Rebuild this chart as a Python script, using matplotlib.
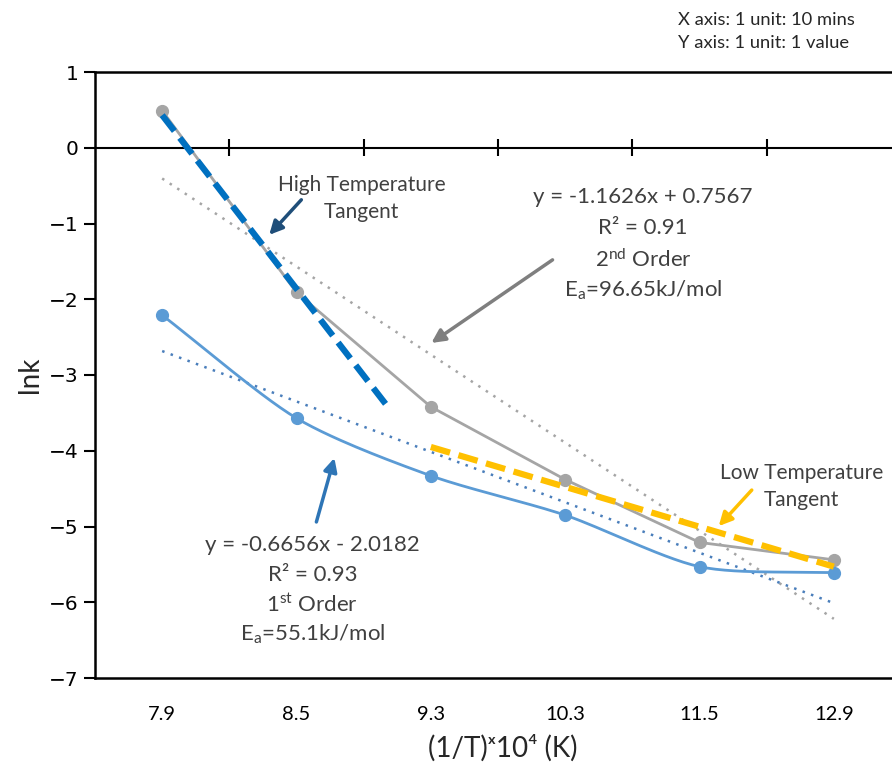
import numpy as np
import matplotlib
matplotlib.use("Agg")
import matplotlib.pyplot as plt
from matplotlib import font_manager

# ---------------- data ----------------
categories = ["7.9", "8.5", "9.3", "10.3", "11.5", "12.9"]
first_order = [-2.21, -3.57, -4.33, -4.85, -5.53, -5.61]     # blue series
second_order = [0.49, -1.91, -3.42, -4.38, -5.21, -5.44]     # gray series
trend_first = (-0.6656, -2.0182)    # slope, intercept (from chart label)
trend_second = (-1.1626, 0.7567)
high_tangent_x = [1.0, 2.68]
high_tangent_y = [0.43, -3.42]
low_tangent_x = [3.0, 6.0]
low_tangent_y = [-3.95, -5.53]
yticks = list(range(-7, 2))

names = {f.name for f in font_manager.fontManager.ttflist}
body_font = ["Lato", "DejaVu Sans"]
narrow = ["Liberation Sans Narrow", "Lato", "DejaVu Sans"] if "Liberation Sans Narrow" in names else ["Lato", "DejaVu Sans"]

plt.rcParams["mathtext.fontset"] = "custom"
plt.rcParams["mathtext.rm"] = "Lato"
plt.rcParams["mathtext.it"] = "Lato:italic"
plt.rcParams["mathtext.bf"] = "Lato:bold"

GRAY = "#A5A5A5"
BLUE = "#5B9BD5"
BLUE_DOT = "#4A7EBB"
DARKBLUE = "#0070C0"
ORANGE = "#FFC000"
TXT = "#404040"

fig = plt.figure(figsize=(8.92, 7.67), dpi=100)
ax = fig.add_axes([95 / 892, 89 / 767, (901 - 95) / 892, (695 - 89) / 767])

x = np.arange(1, len(categories) + 1)

# trend lines (dotted)
for (m, b), col in [(trend_second, GRAY), (trend_first, BLUE_DOT)]:
    ax.plot(x, m * x + b, color=col, lw=1.8, dashes=(1, 2.6), zorder=2)

# gray series (straight)
ax.plot(x, second_order, color=GRAY, lw=2.0, marker="o", ms=8.5, zorder=3)


# blue series smoothed (cardinal spline)
def cardinal(xs, ys, k=0.8, n=30):
    P = np.column_stack([xs, ys]).astype(float)
    m = np.zeros_like(P)
    m[1:-1] = (P[2:] - P[:-2]) / 2 * k
    m[0] = (P[1] - P[0]) * k
    m[-1] = (P[-1] - P[-2]) * k
    out = []
    t = np.linspace(0, 1, n)[:, None]
    h00 = 2 * t ** 3 - 3 * t ** 2 + 1
    h10 = t ** 3 - 2 * t ** 2 + t
    h01 = -2 * t ** 3 + 3 * t ** 2
    h11 = t ** 3 - t ** 2
    for i in range(len(P) - 1):
        out.append(h00 * P[i] + h10 * m[i] + h01 * P[i + 1] + h11 * m[i + 1])
    c = np.vstack(out)
    return c[:, 0], c[:, 1]


sx, sy = cardinal(x, first_order)
ax.plot(sx, sy, color=BLUE, lw=2.0, zorder=3)
ax.plot(x, first_order, ls="none", marker="o", ms=8.5, color=BLUE, zorder=3)

# tangents
ax.plot(high_tangent_x, high_tangent_y, color=DARKBLUE, lw=4.5, dashes=(3.2, 1.4), zorder=4)
ax.plot(low_tangent_x, low_tangent_y, color=ORANGE, lw=4.5, dashes=(3.2, 1.4), zorder=4)

# zero line with crossing ticks at category boundaries
ax.axhline(0, color="black", lw=1.5, zorder=1)
bounds = np.arange(1.5, len(categories) + 0.5, 1.0)
ax.vlines(bounds, -0.11, 0.11, color="black", lw=1.5, zorder=1)

ax.set_xlim(0.5, len(categories) + 0.5)
ax.set_ylim(-7, 1)
ax.set_yticks(yticks)
ax.set_yticklabels([f"{v}".replace("-", "\u2212") for v in yticks], fontsize=14.5, family="DejaVu Sans")
ax.set_xticks(x)
ax.set_xticklabels(categories, fontsize=14.5, family=narrow)
ax.tick_params(axis="x", length=0, pad=20)
ax.tick_params(axis="y", length=8, width=1.5, pad=4)
for s in ["left", "top", "bottom"]:
    ax.spines[s].set_linewidth(1.8)
ax.spines["right"].set_visible(False)


# annotations (text)
def lines(xc, ys, texts, size=16, color=TXT):
    for yy, t in zip(ys, texts):
        ax.text(xc, yy, t, ha="center", va="center", fontsize=size, color=color, family=body_font)


lines(4.58, [-0.649, -1.058, -1.48, -1.878],
      ["y = -1.1626x + 0.7567", "R\u00b2 = 0.91", r"2$^{\mathrm{nd}}$ Order", r"E$_{\mathrm{a}}$=96.65kJ/mol"])
lines(2.118, [-5.246, -5.642, -6.04, -6.43],
      ["y = -0.6656x - 2.0182", "R\u00b2 = 0.93", r"1$^{\mathrm{st}}$ Order", r"E$_{\mathrm{a}}$=55.1kJ/mol"])
lines(2.483, [-0.49, -0.847], ["High Temperature", "Tangent"], size=15)
lines(5.76, [-4.295, -4.65], ["Low Temperature", "Tangent"], size=15)


# arrows
def arrow(tail, head, col):
    ax.annotate("", xy=head, xytext=tail,
                arrowprops=dict(arrowstyle="-|>", color=col, lw=2.5, mutation_scale=20,
                                shrinkA=0, shrinkB=0), zorder=5)


arrow((2.036, -0.687), (1.797, -1.15), "#1F4E79")
arrow((3.906, -1.48), (3.004, -2.577), "#7F7F7F")
arrow((2.148, -4.94), (2.282, -4.095), "#2E75B6")
arrow((5.389, -4.519), (5.143, -4.995), ORANGE)

# labels
fig.text(30 / 892, 1 - 375 / 767, "lnk", rotation=90, ha="center", va="center", fontsize=20,
         family=body_font, color="#262626")
fig.text(503 / 892, 1 - 748 / 767, "(1/T)\u02e310\u2074 (K)", ha="center", va="center", fontsize=20,
         family=narrow, color="#262626")
fig.text(678 / 892, 1 - 20 / 767, "X axis: 1 unit: 10 mins", ha="left", va="center", fontsize=13.2,
         family=body_font, color="#262626")
fig.text(678 / 892, 1 - 43 / 767, "Y axis: 1 unit: 1 value", ha="left", va="center", fontsize=13.2,
         family=body_font, color="#262626")

fig.savefig("out.png", dpi=100)
